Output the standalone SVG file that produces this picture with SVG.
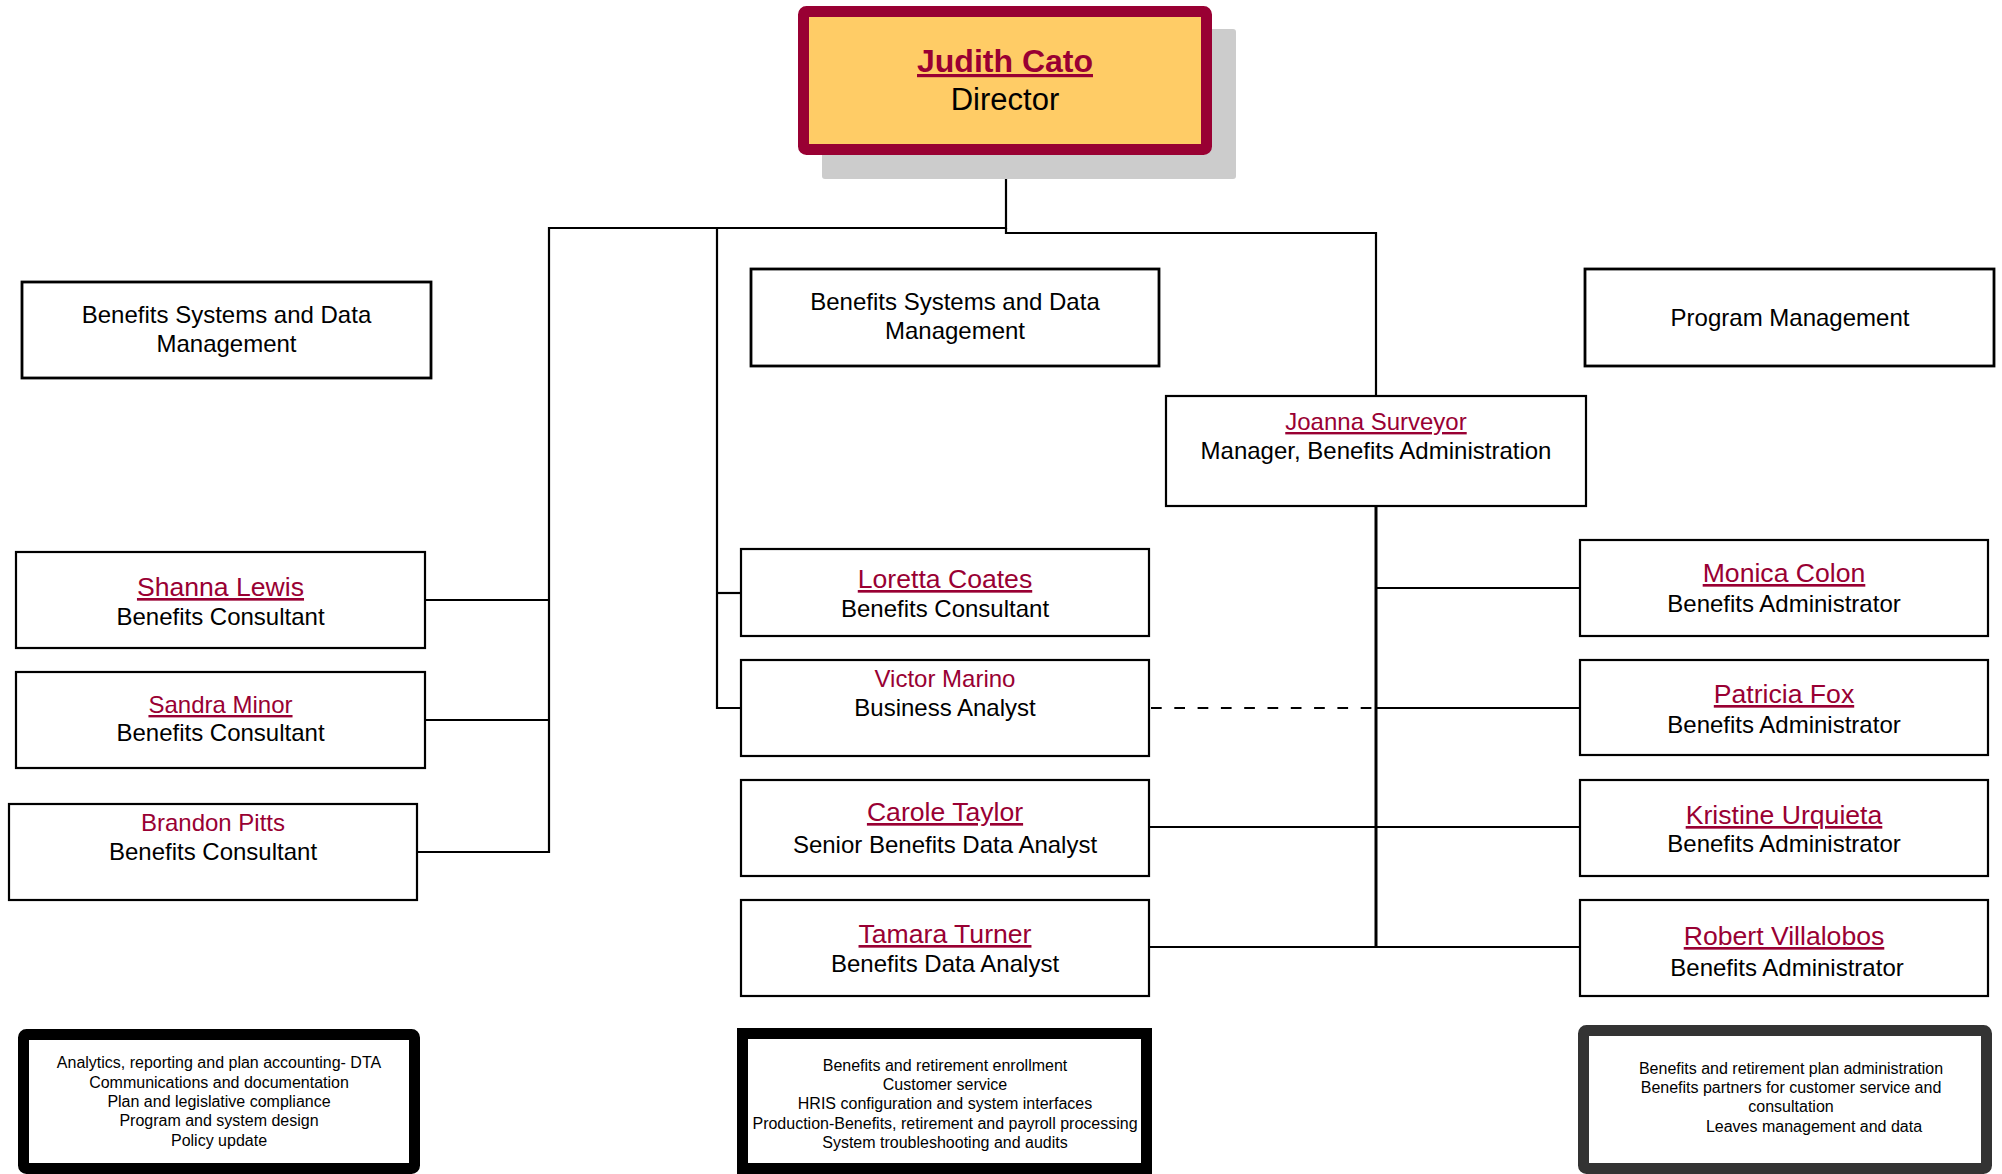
<svg xmlns="http://www.w3.org/2000/svg" width="2002" height="1174" viewBox="0 0 2002 1174">
<style>
text{font-family:"Liberation Sans",Arial,sans-serif;text-anchor:middle;fill:#000}
.box{fill:#fff;stroke:#000;stroke-width:2.2}
.tbox{fill:#fff;stroke:#000;stroke-width:2.8}
.nm{fill:#990033;font-size:26.6px;text-decoration:underline}
.nms{fill:#990033;font-size:24px;text-decoration:underline}
.nmp{fill:#990033;font-size:24px}
.tt{font-size:24px}
.ft{font-size:16px}
.cn{fill:none;stroke:#000;stroke-width:2.2}
.thick{fill:#fff;stroke:#000;stroke-width:11}
</style>
<rect width="2002" height="1174" fill="#fff"/>
<g id="connectors">
<polyline class="cn" points="1006,155 1006,228 549,228 549,852 418,852"/>
<polyline class="cn" points="1006,228 1006,233 1376,233 1376,396"/>
<line class="cn" x1="425" y1="600" x2="549" y2="600"/>
<line class="cn" x1="425" y1="720" x2="549" y2="720"/>
<polyline class="cn" points="717,228 717,708 741,708"/>
<line class="cn" x1="717" y1="593" x2="741" y2="593"/>
<line class="cn" x1="1376" y1="506" x2="1376" y2="948" style="stroke-width:3"/>
<line class="cn" x1="1376" y1="588" x2="1580" y2="588"/>
<line class="cn" x1="1376" y1="708" x2="1580" y2="708"/>
<line class="cn" x1="1149" y1="827" x2="1580" y2="827"/>
<line class="cn" x1="1149" y1="947" x2="1580" y2="947"/>
<line class="cn" x1="1151" y1="708" x2="1375" y2="708" stroke-dasharray="10.7 12.6"/>
</g>
<g id="director">
<rect x="822" y="29" width="414" height="150" rx="3" fill="#ccc"/>
<rect x="803.5" y="11.5" width="403" height="138" rx="3" fill="#FFCC66" stroke="#990033" stroke-width="11"/>
<text x="1005" y="72" style="font-size:32px;font-weight:bold;fill:#990033;text-decoration:underline">Judith Cato</text>
<text x="1005" y="110" style="font-size:31px">Director</text>
</g>
<g id="title-left">
<rect class="tbox" x="22" y="282" width="409" height="96"/>
<text class="tt" x="226.5" y="323">Benefits Systems and Data</text>
<text class="tt" x="226.5" y="352">Management</text>
</g>
<g id="title-mid">
<rect class="tbox" x="751" y="269" width="408" height="97"/>
<text class="tt" x="955" y="310">Benefits Systems and Data</text>
<text class="tt" x="955" y="339">Management</text>
</g>
<g id="title-right">
<rect class="tbox" x="1585" y="269" width="409" height="97"/>
<text class="tt" x="1790" y="326">Program Management</text>
</g>
<g id="joanna">
<rect class="box" x="1166" y="396" width="420" height="110"/>
<text class="nms" x="1376" y="430">Joanna Surveyor</text>
<text class="tt" x="1376" y="459">Manager, Benefits Administration</text>
</g>
<g id="shanna">
<rect class="box" x="16" y="552" width="409" height="96"/>
<text class="nm" x="220.5" y="596">Shanna Lewis</text>
<text class="tt" x="220.5" y="625">Benefits Consultant</text>
</g>
<g id="sandra">
<rect class="box" x="16" y="672" width="409" height="96"/>
<text class="nms" x="220.5" y="713">Sandra Minor</text>
<text class="tt" x="220.5" y="741">Benefits Consultant</text>
</g>
<g id="brandon">
<rect class="box" x="9" y="804" width="408" height="96"/>
<text class="nmp" x="213" y="831">Brandon Pitts</text>
<text class="tt" x="213" y="860">Benefits Consultant</text>
</g>
<g id="loretta">
<rect class="box" x="741" y="549" width="408" height="87"/>
<text class="nm" x="945" y="588">Loretta Coates</text>
<text class="tt" x="945" y="617">Benefits Consultant</text>
</g>
<g id="victor">
<rect class="box" x="741" y="660" width="408" height="96"/>
<text class="nmp" x="945" y="687">Victor Marino</text>
<text class="tt" x="945" y="716">Business Analyst</text>
</g>
<g id="carole">
<rect class="box" x="741" y="780" width="408" height="96"/>
<text class="nm" x="945" y="821">Carole Taylor</text>
<text class="tt" x="945" y="853">Senior Benefits Data Analyst</text>
</g>
<g id="tamara">
<rect class="box" x="741" y="900" width="408" height="96"/>
<text class="nm" x="945" y="943">Tamara Turner</text>
<text class="tt" x="945" y="972">Benefits Data Analyst</text>
</g>
<g id="monica">
<rect class="box" x="1580" y="540" width="408" height="96"/>
<text class="nm" x="1784" y="582">Monica Colon</text>
<text class="tt" x="1784" y="612">Benefits Administrator</text>
</g>
<g id="patricia">
<rect class="box" x="1580" y="660" width="408" height="95"/>
<text class="nm" x="1784" y="703">Patricia Fox</text>
<text class="tt" x="1784" y="733">Benefits Administrator</text>
</g>
<g id="kristine">
<rect class="box" x="1580" y="780" width="408" height="96"/>
<text class="nm" x="1784" y="824">Kristine Urquieta</text>
<text class="tt" x="1784" y="852">Benefits Administrator</text>
</g>
<g id="robert">
<rect class="box" x="1580" y="900" width="408" height="96"/>
<text class="nm" x="1784" y="945">Robert Villalobos</text>
<text class="tt" x="1787" y="976">Benefits Administrator</text>
</g>
<g id="duties-left">
<rect class="thick" x="23.5" y="1034.5" width="391" height="134" rx="3"/>
<text class="ft" x="219" y="1068">Analytics, reporting and plan accounting- DTA</text>
<text class="ft" x="219" y="1087.5">Communications and documentation</text>
<text class="ft" x="219" y="1106.5">Plan and legislative compliance</text>
<text class="ft" x="219" y="1126">Program and system design</text>
<text class="ft" x="219" y="1145.5">Policy update</text>
</g>
<g id="duties-mid">
<rect class="thick" x="742.5" y="1033.5" width="404" height="135"/>
<text class="ft" x="945" y="1071">Benefits and retirement enrollment</text>
<text class="ft" x="945" y="1090">Customer service</text>
<text class="ft" x="945" y="1109">HRIS configuration and system interfaces</text>
<text class="ft" x="945" y="1128.5">Production-Benefits, retirement and payroll processing</text>
<text class="ft" x="945" y="1147.5">System troubleshooting and audits</text>
</g>
<g id="duties-right">
<rect class="thick" x="1583.5" y="1030.5" width="403" height="138" rx="3" style="stroke:#333"/>
<text class="ft" x="1791" y="1073.5">Benefits and retirement plan administration</text>
<text class="ft" x="1791" y="1092.5">Benefits partners for customer service and</text>
<text class="ft" x="1791" y="1111.5">consultation</text>
<text class="ft" x="1814" y="1132">Leaves management and data</text>
</g>
</svg>
